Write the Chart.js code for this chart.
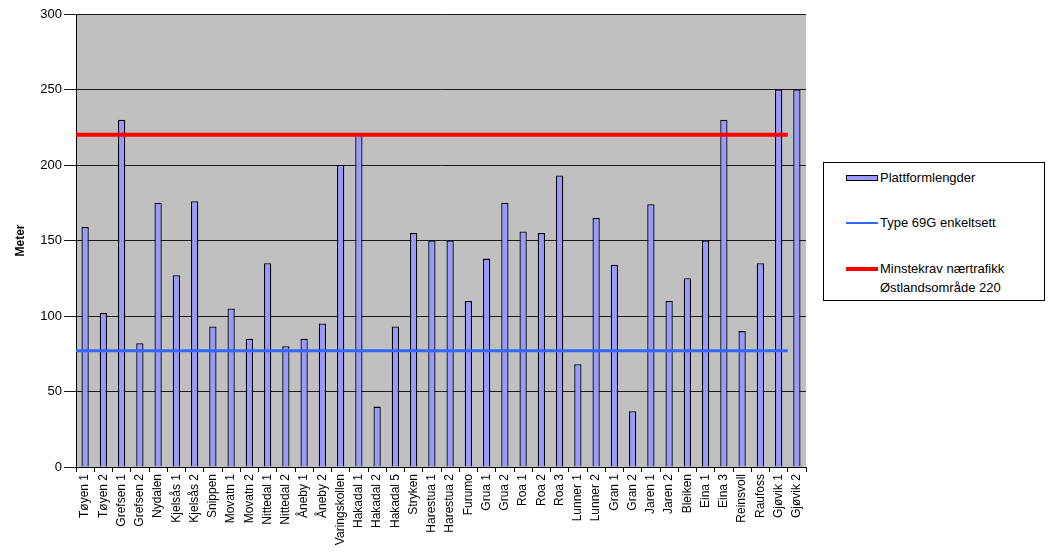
<!DOCTYPE html>
<html>
<head>
<meta charset="utf-8">
<script src="https://cdn.jsdelivr.net/npm/chart.js@4/dist/chart.umd.min.js"></script>
<style>
  html, body { margin: 0; padding: 0; background: #fff; }
  #wrap { position: relative; width: 1058px; height: 555px; }
  #legend {
    position: absolute; left: 823px; top: 162px; width: 222px; height: 139px;
    border: 1px solid #000; background: #fff; box-sizing: border-box;
    font-family: "Liberation Sans", Arial, sans-serif; font-size: 13px; color: #000;
  }
  .item { position: absolute; left: 22px; display: flex; align-items: flex-start; }
  .sw { width: 32px; margin-right: 2px; box-sizing: border-box; }
  .txt { line-height: 19px; }
</style>
</head>
<body>
<div id="wrap">
  <canvas id="c" width="1058" height="555"></canvas>
  <div id="legend">
    <div class="item" style="top:5px"><div class="sw" style="height:6px;margin-top:7px;background:#9999FF;border:1.5px solid #000"></div><div class="txt">Plattformlengder</div></div>
    <div class="item" style="top:50px"><div class="sw" style="height:2px;margin-top:9px;background:#3366FF"></div><div class="txt">Type 69G enkeltsett</div></div>
    <div class="item" style="top:96px"><div class="sw" style="height:4px;margin-top:8px;background:#FF0000"></div><div class="txt">Minstekrav nærtrafikk<br>Østlandsområde 220</div></div>
  </div>
</div>
<script>
const categories = ["Tøyen 1","Tøyen 2","Grefsen 1","Grefsen 2","Nydalen","Kjelsås 1","Kjelsås 2","Snippen","Movatn 1","Movatn 2","Nittedal 1","Nittedal 2","Åneby 1","Åneby 2","Varingskollen","Hakadal 1","Hakadal 2","Hakadal 5","Stryken","Harestua 1","Harestua 2","Furumo","Grua 1","Grua 2","Roa 1","Roa 2","Roa 3","Lunner 1","Lunner 2","Gran 1","Gran 2","Jaren 1","Jaren 2","Bleiken","Eina 1","Eina 3","Reinsvoll","Raufoss","Gjøvik 1","Gjøvik 2"];
const plattformlengder = [159,102,230,82,175,127,176,93,105,85,135,80,85,95,200,220,40,93,155,150,150,110,138,175,156,155,193,68,165,134,37,174,110,125,150,230,90,135,250,250];
const type69G = 77;
const minstekrav = 220;
const lineCategoryCount = 39; // reference lines span the first 39 categories
const yTicks = [0,50,100,150,200,250,300];

const lineData = v => [{x: -0.5, y: v}, {x: lineCategoryCount - 0.5, y: v}];

const bgPlugin = {
  id: 'bg',
  beforeDraw(chart) {
    const {ctx, chartArea: a} = chart;
    ctx.save();
    ctx.fillStyle = '#C0C0C0';
    ctx.fillRect(a.left, a.top, a.right - a.left, a.bottom - a.top);
    ctx.restore();
  }
};

Chart.defaults.font.family = '"Liberation Sans", Arial, sans-serif';
Chart.defaults.color = '#000';

new Chart(document.getElementById('c'), {
  type: 'bar',
  data: {
    labels: categories,
    datasets: [
      { type: 'bar', label: 'Plattformlengder', data: plattformlengder, backgroundColor: '#9999FF', borderColor: '#000', borderWidth: 1.3, categoryPercentage: 1, barPercentage: 0.4, grouped: false, order: 3, xAxisID: 'x', yAxisID: 'y' },
      { type: 'line', label: 'Type 69G enkeltsett', data: lineData(type69G), borderColor: '#3366FF', borderWidth: 3, pointRadius: 0, xAxisID: 'x2', yAxisID: 'y', order: 2 },
      { type: 'line', label: 'Minstekrav nærtrafikk Østlandsområde 220', data: lineData(minstekrav), borderColor: '#FF0000', borderWidth: 4, pointRadius: 0, xAxisID: 'x2', yAxisID: 'y', order: 1 }
    ]
  },
  options: {
    responsive: false,
    animation: false,
    layout: { padding: { top: 14, right: 252, left: 0, bottom: 0 } },
    plugins: { legend: { display: false }, tooltip: { enabled: false } },
    scales: {
      x: {
        type: 'category',
        offset: true,
        grid: { display: true, drawOnChartArea: false, drawTicks: true, tickLength: 5, color: '#000', offset: true },
        border: { display: true, color: '#000', width: 1 },
        ticks: { minRotation: 90, maxRotation: 90, autoSkip: false, padding: 2, font: { size: 12 }, color: '#000' },
        afterFit(s) { s.height = 88; }
      },
      x2: {
        type: 'linear', display: false, offset: false, min: -0.5, max: categories.length - 0.5
      },
      y: {
        min: 0, max: 300,
        afterBuildTicks(s) { s.ticks = yTicks.map(v => ({value: v})); },
        grid: { color: '#1a1a1a', lineWidth: 1, tickLength: 12, drawTicks: true },
        border: { display: true, color: '#000', width: 1 },
        ticks: { padding: 2, font: { size: 13 }, color: '#000' },
        title: { display: true, text: 'Meter', font: { size: 12, weight: 'bold' }, color: '#000', padding: { top: 13, bottom: 0 } },
        afterFit(s) { s.width = 76; }
      }
    }
  },
  plugins: [bgPlugin]
});
</script>
</body>
</html>
